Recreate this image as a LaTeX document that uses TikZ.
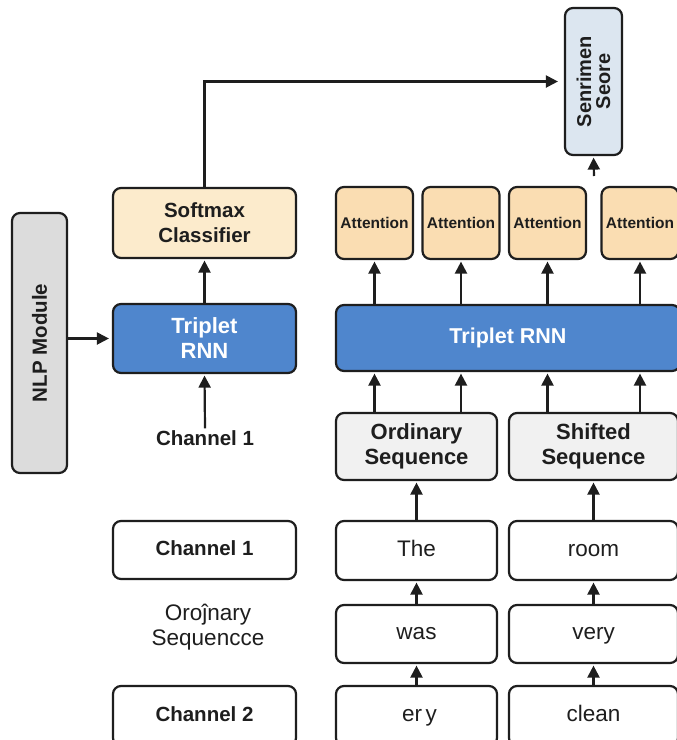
\documentclass[tikz,border=0pt]{standalone}
\usepackage{fontspec}
\setmainfont{Liberation Sans}
\usetikzlibrary{arrows.meta}
\definecolor{lineC}{HTML}{1E1E1E}
\definecolor{softC}{HTML}{FCEBCC}
\definecolor{attC}{HTML}{FADDB2}
\definecolor{blueC}{HTML}{4F86CD}
\definecolor{nlpC}{HTML}{DCDCDC}
\definecolor{seqC}{HTML}{F1F1F1}
\definecolor{sentC}{HTML}{DCE6F0}
\tikzset{
  box/.style={draw=lineC, line width=2.2pt, rounded corners=8pt, inner sep=0pt, align=center, text=lineC},
  conn/.style={draw=lineC, line width=2.2pt, -{Triangle[width=12pt,length=12pt]}, shorten >=1.5pt},
  bl/.style={font=\bfseries\fontsize{20.5}{25}\selectfont},
  rg/.style={font=\fontsize{22.5}{25}\selectfont},
  oneline/.style={text height=16pt, text depth=4.5pt},
}
\begin{document}
\begin{tikzpicture}[x=1pt,y=-1pt]
\useasboundingbox[fill=white] (0,0) rectangle (677,740);
% top
\node[box, fill=sentC, rotate=90, minimum width=147, minimum height=57, font=\bfseries\fontsize{20}{19}\selectfont] (sent) at (593.5,81.5) {Senrimen\\Seore};
\node[box, fill=softC, minimum width=183, minimum height=70, bl] (soft) at (204.5,223) {Softmax\\Classifier};
\node[box, fill=nlpC, rotate=90, minimum width=260, minimum height=55, font=\bfseries\fontsize{20.5}{24}\selectfont] (nlp) at (39.5,343) {NLP Module};
\node[box, fill=blueC, minimum width=183, minimum height=69, text=white, font=\bfseries\fontsize{22}{25}\selectfont] (rnnL) at (204.5,338.5) {Triplet\\RNN};
\node[bl, text=lineC, inner sep=2pt] (ch1t) at (205,438) {Channel 1};
% attention
\foreach \n/\cx in {att1/374.5, att2/461, att3/547.5, att4/640}{
  \node[box, fill=attC, minimum width=77, minimum height=72, font=\bfseries\fontsize{15.5}{18}\selectfont] (\n) at (\cx,223) {Attention};
}
\node[box, fill=blueC, minimum width=344, minimum height=66, text=white, font=\bfseries\fontsize{21.5}{25}\selectfont] (rnnR) at (508,338) {Triplet RNN};
\node[box, fill=seqC, minimum width=161, minimum height=67, font=\bfseries\fontsize{22}{25}\selectfont] (ord) at (416.5,446.5) {Ordinary\\Sequence};
\node[box, fill=seqC, minimum width=169, minimum height=67, font=\bfseries\fontsize{22}{25}\selectfont] (shf) at (593.5,446.5) {Shifted\\Sequence};
% bottom
\node[box, minimum width=183, minimum height=58, bl, oneline] (ch1b) at (204.5,550) {Channel 1};
\node[box, minimum width=161, minimum height=59, rg, oneline] (the) at (416.5,550.5) {The};
\node[box, minimum width=169, minimum height=59, rg, oneline] (room) at (593.5,550.5) {room};
\node[rg, text=lineC, align=center, inner sep=0pt] (ortxt) at (208,627) {Oroĵnary\\Sequencce};
\node[box, minimum width=161, minimum height=58, rg, oneline] (was) at (416.5,634) {was};
\node[box, minimum width=169, minimum height=58, rg, oneline] (very) at (593.5,634) {very};
\node[box, minimum width=183, minimum height=60, bl, oneline] (ch2) at (204.5,716) {Channel 2};
\node[box, minimum width=161, minimum height=60, rg, oneline] (ery) at (416.5,716) {\hspace*{6pt}er\,y};
\node[box, minimum width=169, minimum height=60, rg, oneline] (clean) at (593.5,716) {clean};
% connectors
\draw[conn, shorten >=6pt] (soft.north) |- (sent.north);
\coordinate (sentin) at (594,176);
\draw[conn] (sentin) -- (sent.west);
\draw[conn, shorten >=3pt] (nlp.south |- rnnL.west) -- (rnnL.west);
\draw[conn] (rnnL.north) -- (soft.south);
\draw[conn] (ch1t.north) -- (rnnL.south);
\foreach \n in {att1,att2,att3,att4}{
  \draw[conn] (\n.south |- rnnR.north) -- (\n.south);
}
\draw[conn] (att1.south |- ord.north) -- (att1.south |- rnnR.south);
\draw[conn] (att2.south |- ord.north) -- (att2.south |- rnnR.south);
\draw[conn] (att3.south |- shf.north) -- (att3.south |- rnnR.south);
\draw[conn] (att4.south |- shf.north) -- (att4.south |- rnnR.south);
\draw[conn] (the.north) -- (ord.south);
\draw[conn] (room.north) -- (shf.south);
\draw[conn] (was.north) -- (the.south);
\draw[conn] (very.north) -- (room.south);
\draw[conn] (ery.north) -- (was.south);
\draw[conn] (clean.north) -- (very.south);
\end{tikzpicture}
\end{document}
